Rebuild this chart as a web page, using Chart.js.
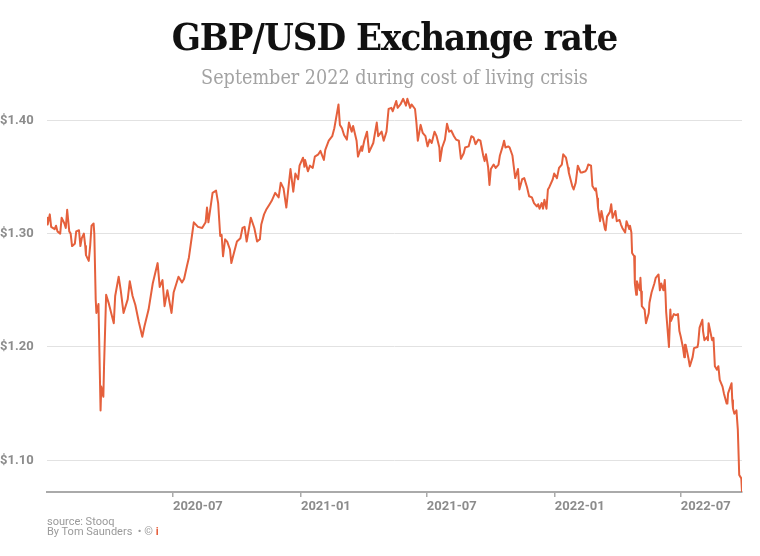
<!DOCTYPE html>
<html>
<head>
<meta charset="utf-8">
<script src="https://cdn.jsdelivr.net/npm/chart.js@4.4.1/dist/chart.umd.min.js"></script>
<style>
  html, body { margin: 0; padding: 0; background: #fff; }
  #wrap { position: relative; width: 760px; height: 556px; }
  #title {
    position: absolute; left: 47px; width: 695px; top: 18px;
    text-align: center; color: #111;
    font-family: "DejaVu Serif Condensed", "DejaVu Serif", serif;
    font-weight: bold; font-size: 38px; line-height: 38px;
    font-stretch: condensed; letter-spacing: -1px;
  }
  #subtitle {
    position: absolute; left: 47px; width: 695px; top: 68px;
    text-align: center; color: #a3a3a3;
    font-family: "DejaVu Serif Condensed", "DejaVu Serif", serif;
    font-size: 19.6px; line-height: 19.6px; font-stretch: condensed;
  }
  #footer {
    position: absolute; left: 47px; top: 517px;
    font-family: Roboto, sans-serif; font-size: 11px; line-height: 10px;
    color: #9a9a9a;
  }
  #footer .logo { color: #e5603c; font-weight: bold; }
</style>
</head>
<body>
<div id="wrap">
  <canvas id="rateChart"></canvas>
  <div id="title">GBP/USD Exchange rate</div>
  <div id="subtitle">September 2022 during cost of living crisis</div>
  <div id="footer">source: Stooq<br>By Tom Saunders&nbsp; • © <span class="logo">i</span></div>
</div>
<script>
// ── Data ────────────────────────────────────────────────
const dates = [
  "2020-01-02","2020-01-03","2020-01-06","2020-01-08","2020-01-13","2020-01-15","2020-01-17","2020-01-21",
  "2020-01-23","2020-01-27","2020-01-29","2020-01-31","2020-02-03","2020-02-05","2020-02-07","2020-02-11",
  "2020-02-13","2020-02-17","2020-02-19","2020-02-21","2020-02-24","2020-02-26","2020-02-27","2020-03-02",
  "2020-03-04","2020-03-06","2020-03-09","2020-03-10","2020-03-12","2020-03-13","2020-03-16","2020-03-19",
  "2020-03-20","2020-03-23","2020-03-24","2020-03-27","2020-03-31","2020-04-07","2020-04-09","2020-04-14",
  "2020-04-17","2020-04-21","2020-04-27","2020-04-30","2020-05-04","2020-05-08","2020-05-13","2020-05-18",
  "2020-05-21","2020-05-27","2020-06-02","2020-06-09","2020-06-12","2020-06-16","2020-06-19","2020-06-23",
  "2020-06-29","2020-07-02","2020-07-09","2020-07-14","2020-07-17","2020-07-21","2020-07-24","2020-07-29",
  "2020-07-31","2020-08-06","2020-08-12","2020-08-17","2020-08-19","2020-08-21","2020-08-27","2020-09-01",
  "2020-09-04","2020-09-07","2020-09-09","2020-09-11","2020-09-14","2020-09-17","2020-09-21","2020-09-23",
  "2020-09-25","2020-10-01","2020-10-06","2020-10-09","2020-10-12","2020-10-15","2020-10-21","2020-10-26",
  "2020-10-30","2020-11-03","2020-11-05","2020-11-09","2020-11-12","2020-11-17","2020-11-20","2020-11-25",
  "2020-11-30","2020-12-03","2020-12-07","2020-12-11","2020-12-15","2020-12-17","2020-12-21","2020-12-24",
  "2020-12-28","2020-12-30",
  "2021-01-04","2021-01-06","2021-01-07","2021-01-11","2021-01-14","2021-01-18","2021-01-21","2021-01-26",
  "2021-01-29","2021-02-03","2021-02-05","2021-02-10","2021-02-15","2021-02-18","2021-02-22","2021-02-24",
  "2021-02-26","2021-03-01","2021-03-04","2021-03-08","2021-03-11","2021-03-15","2021-03-17","2021-03-22",
  "2021-03-24","2021-03-29","2021-03-30","2021-04-02","2021-04-06","2021-04-09","2021-04-15","2021-04-20",
  "2021-04-22","2021-04-27","2021-04-30","2021-05-04","2021-05-07","2021-05-11","2021-05-13","2021-05-18",
  "2021-05-20","2021-05-24","2021-05-28","2021-06-01","2021-06-03","2021-06-07","2021-06-09","2021-06-14",
  "2021-06-16","2021-06-18","2021-06-22","2021-06-25","2021-06-29","2021-07-02","2021-07-05","2021-07-08",
  "2021-07-12","2021-07-15","2021-07-19","2021-07-20","2021-07-23","2021-07-27","2021-07-30","2021-08-02",
  "2021-08-05","2021-08-09","2021-08-12","2021-08-16","2021-08-19","2021-08-23","2021-08-25","2021-08-30",
  "2021-09-03","2021-09-06","2021-09-09","2021-09-13","2021-09-16","2021-09-20","2021-09-22","2021-09-24",
  "2021-09-27","2021-09-29","2021-10-01","2021-10-05","2021-10-08","2021-10-12","2021-10-14","2021-10-18",
  "2021-10-20","2021-10-22","2021-10-26","2021-10-28","2021-11-01","2021-11-03","2021-11-05","2021-11-09",
  "2021-11-11","2021-11-15","2021-11-18","2021-11-22","2021-11-25","2021-11-29","2021-12-02","2021-12-06",
  "2021-12-08","2021-12-10","2021-12-13","2021-12-15","2021-12-17","2021-12-20","2021-12-22","2021-12-24",
  "2021-12-29","2021-12-31",
  "2022-01-04","2022-01-07","2022-01-11","2022-01-13","2022-01-17","2022-01-20","2022-01-21","2022-01-26",
  "2022-01-28","2022-01-31","2022-02-03","2022-02-07","2022-02-09","2022-02-14","2022-02-16","2022-02-18",
  "2022-02-22","2022-02-24","2022-02-28","2022-03-01","2022-03-03","2022-03-04","2022-03-07","2022-03-09",
  "2022-03-14","2022-03-15","2022-03-17","2022-03-21","2022-03-23","2022-03-25","2022-03-29","2022-03-31",
  "2022-04-04","2022-04-06","2022-04-08","2022-04-12","2022-04-14","2022-04-18","2022-04-19","2022-04-21",
  "2022-04-22","2022-04-25","2022-04-26","2022-04-28","2022-04-29","2022-05-03","2022-05-04","2022-05-05",
  "2022-05-06","2022-05-10","2022-05-12","2022-05-16","2022-05-17","2022-05-20","2022-05-24","2022-05-26",
  "2022-05-30","2022-06-01","2022-06-03","2022-06-06","2022-06-08","2022-06-09","2022-06-10","2022-06-14",
  "2022-06-16","2022-06-17","2022-06-21","2022-06-24","2022-06-27","2022-06-29","2022-07-01","2022-07-04",
  "2022-07-06","2022-07-07","2022-07-08","2022-07-12","2022-07-14","2022-07-18","2022-07-20","2022-07-25",
  "2022-07-26","2022-07-28","2022-08-01","2022-08-02","2022-08-04","2022-08-08","2022-08-09","2022-08-10",
  "2022-08-12","2022-08-15","2022-08-17","2022-08-19","2022-08-22","2022-08-24","2022-08-26","2022-08-30",
  "2022-09-01","2022-09-05","2022-09-06","2022-09-07","2022-09-12","2022-09-13","2022-09-14","2022-09-16",
  "2022-09-19","2022-09-21","2022-09-23","2022-09-26","2022-09-27"
];

const rates = [
  1.314,1.308,1.317,1.306,1.304,1.307,1.302,1.300,
  1.314,1.309,1.305,1.321,1.302,1.300,1.289,1.291,
  1.302,1.303,1.289,1.296,1.300,1.289,1.281,1.276,
  1.289,1.307,1.309,1.300,1.242,1.230,1.238,1.144,
  1.165,1.156,1.183,1.246,1.238,1.221,1.245,1.262,
  1.250,1.230,1.242,1.258,1.245,1.237,1.222,1.209,
  1.218,1.233,1.256,1.274,1.253,1.259,1.236,1.250,
  1.230,1.248,1.262,1.257,1.260,1.271,1.279,1.301,
  1.310,1.306,1.305,1.310,1.323,1.310,1.336,1.338,
  1.327,1.298,1.299,1.280,1.295,1.293,1.286,1.274,
  1.279,1.293,1.296,1.305,1.306,1.293,1.314,1.305,
  1.293,1.295,1.308,1.317,1.321,1.326,1.329,1.336,
  1.332,1.345,1.340,1.323,1.346,1.357,1.337,1.353,
  1.348,1.360,
  1.367,1.359,1.365,1.355,1.360,1.358,1.368,1.370,
  1.373,1.365,1.374,1.382,1.386,1.393,1.407,1.414,
  1.396,1.393,1.387,1.383,1.398,1.390,1.395,1.382,
  1.368,1.377,1.373,1.382,1.390,1.372,1.380,1.398,
  1.386,1.390,1.382,1.390,1.410,1.411,1.408,1.417,
  1.411,1.414,1.419,1.413,1.419,1.411,1.414,1.410,
  1.398,1.382,1.396,1.389,1.386,1.377,1.383,1.380,
  1.390,1.386,1.376,1.364,1.376,1.383,1.397,1.390,
  1.391,1.386,1.383,1.382,1.366,1.371,1.376,1.377,
  1.386,1.385,1.379,1.383,1.382,1.369,1.364,1.370,
  1.359,1.343,1.357,1.361,1.358,1.361,1.369,1.377,
  1.382,1.376,1.377,1.376,1.369,1.359,1.349,1.357,
  1.339,1.348,1.349,1.341,1.333,1.332,1.327,1.324,
  1.326,1.322,1.327,1.322,1.330,1.322,1.339,1.341,
  1.348,1.353,
  1.349,1.358,1.361,1.370,1.367,1.358,1.354,1.342,
  1.339,1.345,1.360,1.354,1.354,1.355,1.357,1.361,
  1.360,1.342,1.338,1.340,1.331,1.323,1.311,1.320,
  1.304,1.303,1.315,1.319,1.326,1.314,1.320,1.311,
  1.312,1.308,1.305,1.301,1.311,1.304,1.307,1.301,
  1.283,1.280,1.256,1.246,1.258,1.250,1.261,1.249,
  1.236,1.233,1.221,1.230,1.239,1.248,1.256,1.261,
  1.264,1.250,1.256,1.250,1.259,1.247,1.231,1.200,
  1.233,1.223,1.229,1.228,1.229,1.214,1.209,1.200,
  1.191,1.202,1.202,1.190,1.183,1.191,1.199,1.200,
  1.203,1.217,1.224,1.214,1.206,1.209,1.206,1.221,
  1.215,1.206,1.208,1.183,1.180,1.183,1.171,1.165,
  1.159,1.150,1.150,1.159,1.168,1.153,1.146,1.141,
  1.144,1.127,1.087,1.084,1.072
];

const tickMonths = ["2020-07", "2021-01", "2021-07", "2022-01", "2022-07"];
const yTicks     = [1.10, 1.20, 1.30, 1.40];

// ── Helpers ─────────────────────────────────────────────
const DAY   = 86400000;
const toDay = (s) => Date.parse(s + "T00:00:00Z") / DAY;
const monthLabel = {};
tickMonths.forEach((m) => { monthLabel[toDay(m + "-01")] = m; });

const points = dates.map((d, i) => ({ x: toDay(d), y: rates[i] }));

const axisFont = { family: "Roboto", weight: "bold", size: 13 };
const axisGrey = "#8c8c8c";

// ── Chart ───────────────────────────────────────────────
const ctx = document.getElementById("rateChart").getContext("2d");

new Chart(ctx, {
  type: "line",
  data: {
    datasets: [{
      label: "GBP/USD",
      data: points,
      borderColor: "#e5603c",
      borderWidth: 2,
      pointRadius: 0,
      tension: 0,
      borderJoinStyle: "round",
      fill: false
    }]
  },
  options: {
    responsive: true,
    maintainAspectRatio: false,
    animation: false,
    layout: { padding: { top: 92, right: 18, bottom: 34, left: 0 } },
    plugins: {
      legend: { display: false },
      tooltip: { enabled: false }
    },
    scales: {
      x: {
        type: "linear",
        min: toDay(dates[0]),
        max: toDay(dates[dates.length - 1]),
        afterBuildTicks: (scale) => {
          scale.ticks = tickMonths.map((m) => ({ value: toDay(m + "-01") }));
        },
        afterFit: (scale) => { scale.height = 30; },
        grid: { drawOnChartArea: false, tickLength: 5, color: "#aaa", lineWidth: 1.5 },
        border: { color: "#aaa", width: 2 },
        ticks: {
          autoSkip: false,
          maxRotation: 0,
          align: "start",
          padding: 2,
          color: axisGrey,
          font: axisFont,
          callback: (v) => monthLabel[v] || ""
        }
      },
      y: {
        min: 1.072,
        max: 1.425,
        afterBuildTicks: (scale) => {
          scale.ticks = yTicks.map((v) => ({ value: v }));
        },
        afterFit: (scale) => { scale.width = 47; },
        grid: { color: "#e2e2e2", lineWidth: 1, drawTicks: false },
        border: { display: false },
        ticks: {
          crossAlign: "far",
          padding: 0,
          color: axisGrey,
          font: axisFont,
          callback: (v) => "$" + Number(v).toFixed(2)
        }
      }
    }
  }
});
</script>
</body>
</html>
